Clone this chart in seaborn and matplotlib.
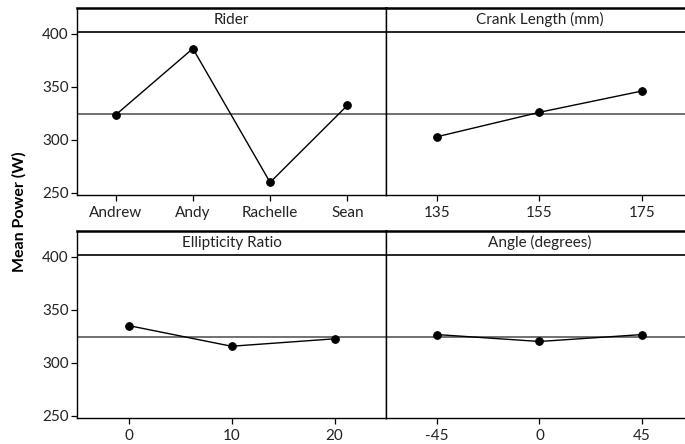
import matplotlib
matplotlib.use("Agg")
import matplotlib.pyplot as plt
import seaborn as sns
import pandas as pd

# ---- data ----
rider_levels = ["Andrew", "Andy", "Rachelle", "Sean"]
rider_means = [323.5, 386.0, 260.0, 332.5]

crank_levels = [135, 155, 175]
crank_means = [303.0, 326.0, 346.0]

ellip_levels = [0, 10, 20]
ellip_means = [335.0, 315.5, 322.5]

angle_levels = [-45, 0, 45]
angle_means = [326.5, 320.0, 326.5]

grand_mean = 324.3

panel_titles = ["Rider", "Crank Length (mm)", "Ellipticity Ratio", "Angle (degrees)"]
y_ticks = [250, 300, 350, 400]
y_label = "Mean Power (W)"

sns.set_theme(style="white")
plt.rcParams["font.family"] = ["Lato", "DejaVu Sans"]

fig = plt.figure(figsize=(6.85, 4.44), dpi=100)
W, H = 685.0, 444.0

def mk_axes(x0, x1, ytop, ybot):
    return fig.add_axes([x0 / W, 1 - ybot / H, (x1 - x0) / W, (ybot - ytop) / H])

ax_tl = mk_axes(77, 386, 8, 195)
ax_tr = mk_axes(386, 693, 8, 195)
ax_bl = mk_axes(77, 386, 231, 417.7)
ax_br = mk_axes(386, 693, 231, 417.7)

panels = [
    (ax_tl, rider_levels, rider_means, panel_titles[0], True),
    (ax_tr, crank_levels, crank_means, panel_titles[1], False),
    (ax_bl, ellip_levels, ellip_means, panel_titles[2], True),
    (ax_br, angle_levels, angle_means, panel_titles[3], False),
]

ylo, yhi, ystrip = 248.1, 424.2, 402.0

for ax, levels, means, title, left in panels:
    df = pd.DataFrame({"level": levels, "mean": means})
    ax.axhline(grand_mean, color="#4a4a4a", lw=1.1, zorder=1)
    sns.pointplot(data=df, x="level", y="mean", order=levels, color="black",
                  markers="o", markersize=5.5, linewidth=1.0, ax=ax, zorder=3)
    ax.set_xlim(-0.5, len(levels) - 0.5)
    ax.set_ylim(ylo, yhi)
    ax.axhline(ystrip, color="black", lw=1.2, zorder=2)
    ax.text(0.5, (ystrip + yhi) / 2, title, transform=ax.get_yaxis_transform(),
            ha="center", va="center", fontsize=11, color="#222222")
    ax.set_xlabel("")
    ax.set_ylabel("")
    ax.set_xticks(range(len(levels)))
    ax.set_xticklabels([str(l) for l in levels])
    ax.tick_params(axis="x", bottom=True, length=4, width=0.9, color="black",
                   labelsize=11, pad=4, labelcolor="#222222")
    if left:
        ax.set_yticks(y_ticks)
        ax.tick_params(axis="y", left=True, length=4, width=0.9, color="black",
                       labelsize=11, pad=2, labelcolor="#222222")
    else:
        ax.set_yticks(y_ticks)
        ax.tick_params(axis="y", left=False, labelleft=False)
    for name, sp in ax.spines.items():
        sp.set_color("black")
        sp.set_linewidth(1.0)
    ax.spines["top"].set_linewidth(1.8)

fig.text(19 / W, 1 - 212 / H, y_label, rotation=90, ha="center", va="center",
         fontsize=11.5, fontweight="bold", color="black")

fig.savefig("out.png", dpi=100)
